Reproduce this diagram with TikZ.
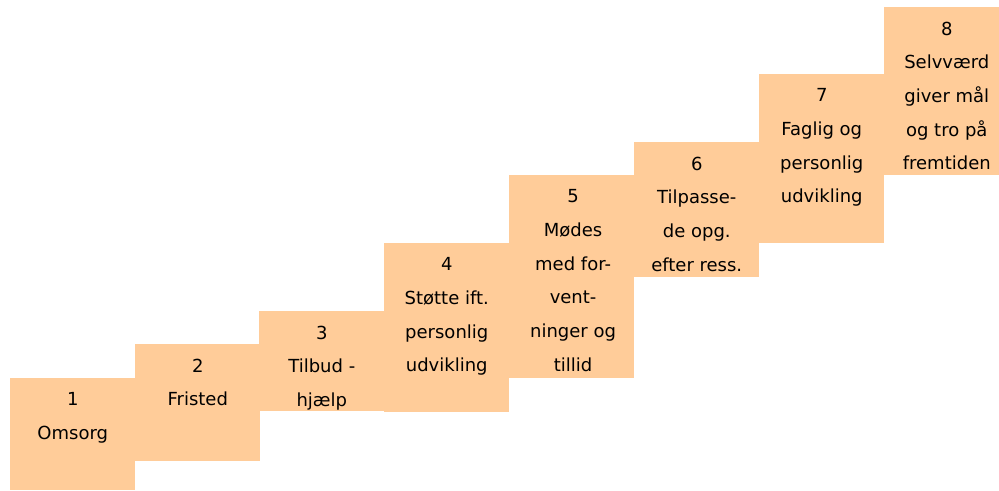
\documentclass[tikz,border=0pt]{standalone}
\usepackage{fontspec}
\setmainfont{DejaVu Sans}
\usetikzlibrary{positioning}
\definecolor{peach}{HTML}{FFCC99}
\tikzset{
  stepbox/.style={fill=peach, draw=none, inner sep=0pt, anchor=north west,
    minimum width=93.75pt},
  steptext/.style={inner sep=0pt, align=center,
    font=\fontsize{13.5}{25.3}\selectfont}
}
\begin{document}
\begin{tikzpicture}[x=0.75pt, y=-0.75pt]
        \clip (0,0) rectangle (999,490);
        \fill[white] (0,0) rectangle (999,490);

        \node[stepbox, minimum height=84pt] (s1) at (10,378) {};
        \node[stepbox, minimum height=87.75pt] (s2) at (135,344) {};
        \node[stepbox, minimum height=75pt] (s3) at (259,311) {};
        \node[stepbox, minimum height=126.75pt] (s4) at (384,243) {};
        \node[stepbox, minimum height=152.25pt] (s5) at (509,175) {};
        \node[stepbox, minimum height=101.25pt] (s6) at (634,142) {};
        \node[stepbox, minimum height=126.75pt] (s7) at (759,74) {};
        \node[stepbox, minimum height=126pt] (s8) at (884,7) {};

        \node[steptext, below=10.8pt of s1.north] (t1) {1\\Omsorg};
        \node[steptext, below=10.8pt of s2.north] (t2) {2\\Fristed};
        \node[steptext, below=10.8pt of s3.north] (t3) {3\\Tilbud -\\hjælp};
        \node[steptext, below=10.8pt of s4.north] (t4) {4\\Støtte ift.\\personlig\\udvikling};
        \node[steptext, below=10.8pt of s5.north, xshift=1pt] (t5) {5\\Mødes\\med for-\\vent-\\ninger og\\tillid};
        \node[steptext, below=10.8pt of s6.north] (t6) {6\\Tilpasse-\\de opg.\\efter ress.};
        \node[steptext, below=10.8pt of s7.north] (t7) {7\\Faglig og\\personlig\\udvikling};
        \node[steptext, below=10.8pt of s8.north] (t8) {8\\Selvværd\\giver mål\\og tro på\\fremtiden};
    \end{tikzpicture}
\end{document}
